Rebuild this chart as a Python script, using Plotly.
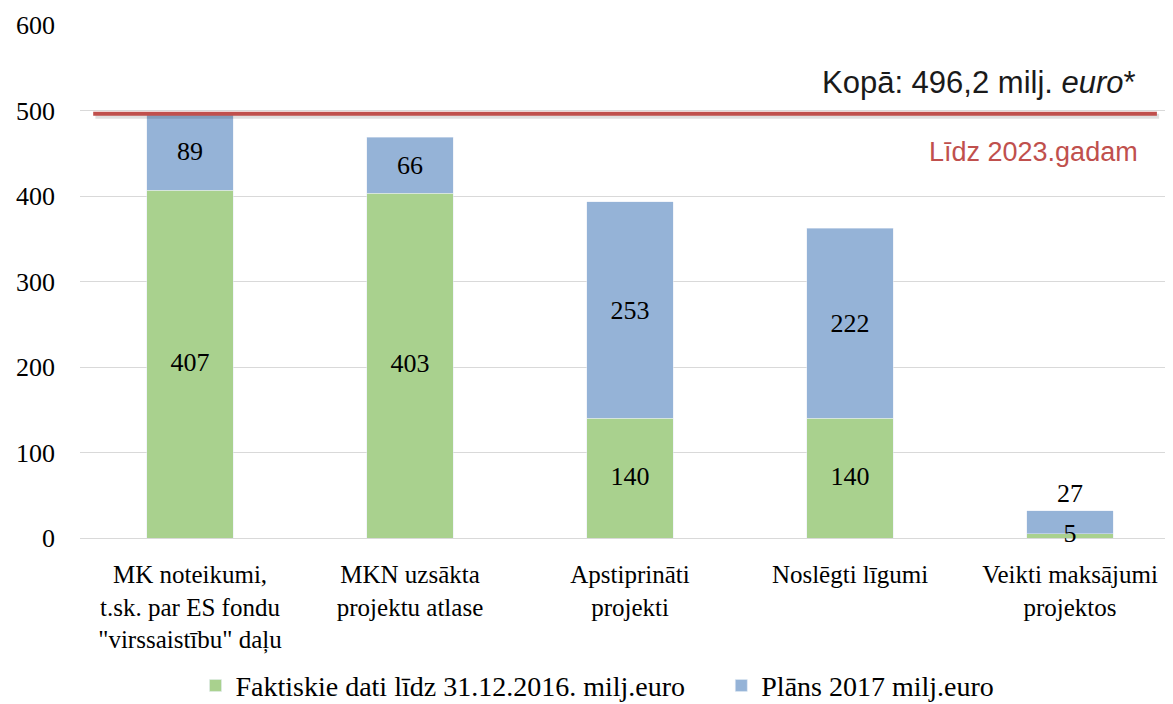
import plotly.graph_objects as go

categories = [
    "MK noteikumi,<br>t.sk. par ES fondu<br>\"virssaistību\" daļu",
    "MKN uzsākta<br>projektu atlase",
    "Apstiprināti<br>projekti",
    "Noslēgti līgumi",
    "Veikti maksājumi<br>projektos",
]
actual_2016 = [407, 403, 140, 140, 5]
plan_2017 = [89, 66, 253, 222, 27]
total_target = 496.2
total_label = "Kopā: 496,2 milj. <i>euro</i>*"
target_label = "Līdz 2023.gadam"
series_names = ["Faktiskie dati līdz 31.12.2016. milj.euro", "Plāns 2017 milj.euro"]
y_ticks = [0, 100, 200, 300, 400, 500, 600]

GREEN = "#a9d18e"
BLUE = "#95b3d7"
RED = "#c0504d"
SERIF = "Liberation Serif, Times New Roman, serif"
SANS = "Liberation Sans, Arial, sans-serif"

x = list(range(len(categories)))

fig = go.Figure()
fig.add_trace(go.Bar(
    x=x, y=actual_2016, name=series_names[0], marker_color=GREEN, width=0.395,
    legend="legend",
))
fig.add_trace(go.Bar(
    x=x, y=plan_2017, name=series_names[1], marker_color=BLUE, width=0.395,
    text=[str(v) for v in plan_2017],
    textposition=["inside", "inside", "inside", "inside", "outside"],
    insidetextanchor="middle",
    textfont=dict(family=SERIF, size=26, color="black"), constraintext="none",
    cliponaxis=False, legend="legend2",
))
# labels for the green segments, centred in each segment
fig.add_trace(go.Scatter(
    x=x, y=[v / 2 for v in actual_2016], mode="text",
    text=[str(v) for v in actual_2016], textposition="middle center",
    textfont=dict(family=SERIF, size=26, color="black"),
    showlegend=False, hoverinfo="skip", cliponaxis=False,
))

# target line with a subtle shadow
fig.add_shape(type="line", xref="paper", yref="y", x0=0.014, x1=0.981,
              y0=total_target - 3, y1=total_target - 3,
              line=dict(color="rgba(0,0,0,0.12)", width=5), layer="above")
fig.add_shape(type="line", xref="paper", yref="y", x0=0.012, x1=0.979,
              y0=total_target, y1=total_target,
              line=dict(color=RED, width=4), layer="above")

fig.add_annotation(x=0.962, xref="paper", y=total_target + 37, yref="y",
                   text=total_label, showarrow=False, xanchor="right", yanchor="middle",
                   font=dict(family=SANS, size=31, color="#1a1a1a"))
fig.add_annotation(x=0.964, xref="paper", y=total_target - 45, yref="y",
                   text=target_label, showarrow=False, xanchor="right", yanchor="middle",
                   font=dict(family=SANS, size=27, color=RED))

legend_style = dict(orientation="h", xanchor="left", y=-0.288, yanchor="middle",
                    font=dict(family=SERIF, size=28, color="black"), itemwidth=30)

fig.update_layout(
    barmode="stack",
    width=1173, height=704,
    margin=dict(l=72, r=1, t=17, b=171),
    plot_bgcolor="white", paper_bgcolor="white",
    showlegend=True,
    legend=dict(x=0.105, **legend_style),
    legend2=dict(x=0.583, **legend_style),
    xaxis=dict(tickmode="array", tickvals=x, ticktext=categories, range=[-0.5, 4.5],
               showgrid=False, zeroline=False, showline=False, automargin=False,
               ticklabelstandoff=19,
               tickfont=dict(family=SERIF, size=25, color="black"), ticks=""),
    yaxis=dict(range=[0, 600], tickvals=y_ticks, showgrid=True, gridcolor="#d9d9d9",
               gridwidth=1, zeroline=True, zerolinecolor="#d9d9d9", zerolinewidth=1,
               showline=False, ticklabelstandoff=24, automargin=False,
               tickfont=dict(family=SERIF, size=26, color="black")),
)

fig.write_html("out.html")
